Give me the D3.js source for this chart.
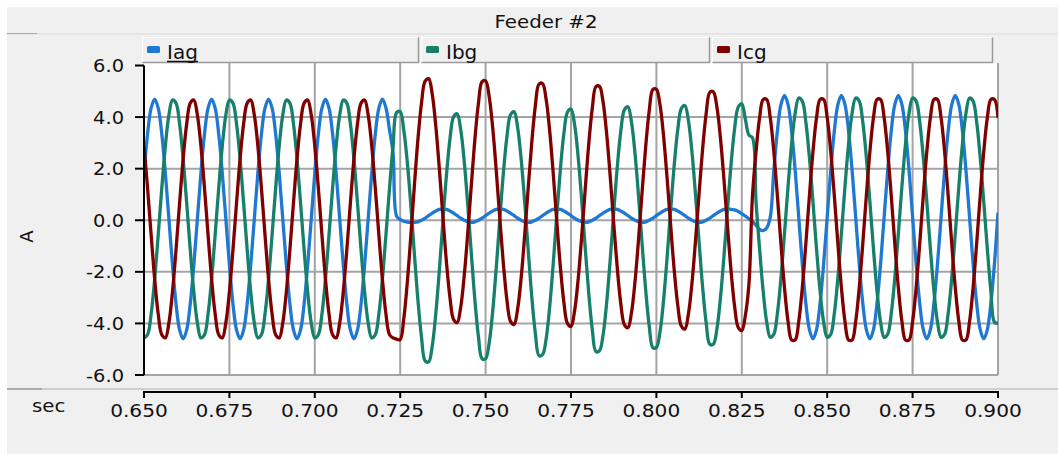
<!DOCTYPE html>
<html><head><meta charset="utf-8">
<script src="https://cdn.jsdelivr.net/npm/d3@7/dist/d3.min.js"></script>
<style>
body{margin:0;background:#fff}
svg{display:block}
text{font-family:"DejaVu Sans",Verdana,sans-serif;fill:#111}
</style>
</head><body>
<svg id="chart" width="1058" height="454"></svg>
<script>
// ---------------- data ----------------
const chartTitle = "Feeder #2";
const seriesNames = ["Iag", "Ibg", "Icg"];
const seriesColors = ["#1f78d2", "#16806a", "#800000"];
const xTicks = [0.650, 0.675, 0.700, 0.725, 0.750, 0.775, 0.800, 0.825, 0.850, 0.875, 0.900];
const xTickLabels = ["0.650", "0.675", "0.700", "0.725", "0.750", "0.775", "0.800", "0.825", "0.850", "0.875", "0.900"];
const yTicks = [-6, -4, -2, 0, 2, 4, 6];
const yTickLabels = ["-6.0", "-4.0", "-2.0", "0.0", "2.0", "4.0", "6.0"];
const xAxisTitle = "sec";
const yAxisTitle = "A";
const startTime = 0.65;      // sec
const sampleStep = 1 / 960;  // sec per sample

// Iag (A), one row per power cycle
const iag = [
  1.83,3.34,4.35,4.70,4.35,3.34,1.83,0.05,-1.73,-3.24,-4.25,-4.60,-4.25,-3.24,-1.73,0.05,
  1.83,3.34,4.35,4.70,4.35,3.34,1.83,0.05,-1.73,-3.24,-4.25,-4.60,-4.25,-3.24,-1.73,0.05,
  1.83,3.34,4.35,4.70,4.35,3.34,1.83,0.05,-1.73,-3.24,-4.25,-4.60,-4.25,-3.24,-1.73,0.05,
  1.83,3.34,4.35,4.70,4.35,3.34,1.83,0.05,-1.73,-3.24,-4.25,-4.60,-4.25,-3.24,-1.73,0.05,
  1.83,3.34,4.35,4.70,4.35,3.50,2.60,0.15,0.03,-0.04,-0.07,-0.08,-0.08,-0.06,0.00,0.08,
  0.18,0.28,0.36,0.42,0.44,0.42,0.36,0.28,0.18,0.08,0.00,-0.06,-0.08,-0.06,0.00,0.08,
  0.18,0.28,0.36,0.42,0.44,0.42,0.36,0.28,0.18,0.08,0.00,-0.06,-0.08,-0.06,0.00,0.08,
  0.18,0.28,0.36,0.42,0.44,0.42,0.36,0.28,0.18,0.08,0.00,-0.06,-0.08,-0.06,0.00,0.08,
  0.18,0.28,0.36,0.42,0.44,0.42,0.36,0.28,0.18,0.08,0.00,-0.06,-0.08,-0.06,0.00,0.08,
  0.18,0.28,0.36,0.42,0.44,0.42,0.36,0.28,0.18,0.08,0.00,-0.06,-0.08,-0.06,0.00,0.08,
  0.18,0.28,0.36,0.42,0.44,0.42,0.40,0.34,0.26,0.16,0.06,-0.05,-0.20,-0.35,-0.40,-0.30,
  0.12,1.93,3.46,4.48,4.84,4.48,3.46,1.93,0.12,-1.69,-3.22,-4.24,-4.60,-4.24,-3.22,-1.69,
  0.12,1.93,3.46,4.48,4.84,4.48,3.46,1.93,0.12,-1.69,-3.22,-4.24,-4.60,-4.24,-3.22,-1.69,
  0.12,1.93,3.46,4.48,4.84,4.48,3.46,1.93,0.12,-1.69,-3.22,-4.24,-4.60,-4.24,-3.22,-1.69,
  0.12,1.93,3.46,4.48,4.84,4.48,3.46,1.93,0.12,-1.69,-3.22,-4.24,-4.60,-4.24,-3.22,-1.69,
  0.30
];

// Ibg (A)
const ibg = [
  -4.56,-4.44,-3.64,-2.28,-0.56,1.25,2.88,4.08,4.66,4.54,3.74,2.38,0.66,-1.15,-2.78,-3.98,
  -4.56,-4.44,-3.64,-2.28,-0.56,1.25,2.88,4.08,4.66,4.54,3.74,2.38,0.66,-1.15,-2.78,-3.98,
  -4.56,-4.44,-3.64,-2.28,-0.56,1.25,2.88,4.08,4.66,4.54,3.74,2.38,0.66,-1.15,-2.78,-3.98,
  -4.56,-4.44,-3.64,-2.28,-0.56,1.25,2.88,4.08,4.66,4.54,3.74,2.38,0.66,-1.15,-2.78,-3.98,
  -4.56,-4.44,-3.64,-2.28,-0.56,1.25,2.88,4.18,4.21,3.50,2.25,0.56,-1.33,-3.13,-4.55,-5.45,
  -5.49,-4.88,-3.63,-1.94,-0.05,1.75,3.17,4.01,4.13,3.52,2.27,0.58,-1.31,-3.11,-4.53,-5.37,
  -5.37,-4.76,-3.52,-1.83,0.05,1.84,3.25,4.09,4.21,3.60,2.36,0.67,-1.21,-3.00,-4.41,-5.25,
  -5.21,-4.61,-3.37,-1.69,0.18,1.95,3.36,4.19,4.31,3.71,2.47,0.79,-1.08,-2.85,-4.26,-5.09,
  -5.06,-4.46,-3.23,-1.56,0.29,2.06,3.46,4.28,4.40,3.80,2.57,0.90,-0.95,-2.72,-4.12,-4.94,
  -4.93,-4.34,-3.12,-1.46,0.38,2.13,3.51,4.33,4.45,3.86,2.64,0.98,-0.86,-2.61,-3.99,-4.81,
  -4.81,-4.22,-3.01,-1.37,0.46,2.20,3.58,4.39,4.51,3.92,3.30,3.20,0.71,-1.11,-2.75,-3.95,
  -4.54,-4.42,-3.61,-2.24,-0.51,1.31,2.95,4.15,4.74,4.62,3.81,2.44,0.71,-1.11,-2.75,-3.95,
  -4.54,-4.42,-3.61,-2.24,-0.51,1.31,2.95,4.15,4.74,4.62,3.81,2.44,0.71,-1.11,-2.75,-3.95,
  -4.54,-4.42,-3.61,-2.24,-0.51,1.31,2.95,4.15,4.74,4.62,3.81,2.44,0.71,-1.11,-2.75,-3.95,
  -4.54,-4.42,-3.61,-2.24,-0.51,1.31,2.95,4.15,4.74,4.62,3.81,2.44,0.71,-1.11,-2.75,-3.95,
  -4.00
];

// Icg (A)
const icg = [
  2.88,1.25,-0.56,-2.28,-3.64,-4.44,-4.56,-3.98,-2.78,-1.15,0.66,2.38,3.74,4.54,4.66,4.08,
  2.88,1.25,-0.56,-2.28,-3.64,-4.44,-4.56,-3.98,-2.78,-1.15,0.66,2.38,3.74,4.54,4.66,4.08,
  2.88,1.25,-0.56,-2.28,-3.64,-4.44,-4.56,-3.98,-2.78,-1.15,0.66,2.38,3.74,4.54,4.66,4.08,
  2.88,1.25,-0.56,-2.28,-3.64,-4.44,-4.56,-3.98,-2.78,-1.15,0.66,2.38,3.74,4.54,4.66,4.08,
  2.88,1.25,-0.56,-2.28,-3.64,-4.44,-4.56,-4.61,-4.63,-3.83,-2.40,-0.58,1.37,3.17,4.56,5.39,
  5.49,4.89,3.66,1.99,0.14,-1.63,-3.02,-3.85,-3.97,-3.37,-2.14,-0.47,1.38,3.15,4.55,5.37,
  5.40,4.80,3.58,1.91,0.06,-1.70,-3.10,-3.92,-4.04,-3.44,-2.22,-0.55,1.30,3.06,4.46,5.28,
  5.30,4.70,3.48,1.82,-0.03,-1.79,-3.18,-4.00,-4.12,-3.52,-2.30,-0.64,1.21,2.97,4.36,5.18,
  5.19,4.60,3.38,1.73,-0.11,-1.85,-3.24,-4.05,-4.17,-3.58,-2.36,-0.71,1.13,2.87,4.26,5.07,
  5.08,4.49,3.29,1.64,-0.18,-1.92,-3.29,-4.10,-4.22,-3.63,-2.43,-0.78,1.04,2.78,4.15,4.96,
  4.98,4.39,3.19,1.56,-0.26,-1.99,-3.36,-4.16,-4.28,-3.69,-2.49,0.95,2.66,3.97,4.68,4.68,
  3.97,2.66,0.95,-0.91,-2.62,-3.93,-4.64,-4.64,-3.93,-2.62,-0.91,0.95,2.66,3.97,4.68,4.68,
  3.97,2.66,0.95,-0.91,-2.62,-3.93,-4.64,-4.64,-3.93,-2.62,-0.91,0.95,2.66,3.97,4.68,4.68,
  3.97,2.66,0.95,-0.91,-2.62,-3.93,-4.64,-4.64,-3.93,-2.62,-0.91,0.95,2.66,3.97,4.68,4.68,
  3.97,2.66,0.95,-0.91,-2.62,-3.93,-4.64,-4.64,-3.93,-2.62,-0.91,0.95,2.66,3.97,4.68,4.68,
  3.97
];

// ---------------- drawing ----------------
const svg = d3.select("#chart");
const W = 1058, H = 454;
const plot = {left: 144, right: 998, top: 63, bottom: 375};

const x = d3.scaleLinear().domain([0.65, 0.90]).range([plot.left, plot.right]);
const y = d3.scaleLinear().domain([-6, 6]).range([375, 65.5]);

// backgrounds
svg.append("rect").attr("width", W).attr("height", H).attr("fill", "#ffffff");
svg.append("rect").attr("x", 7).attr("y", 7).attr("width", W - 7).attr("height", H - 7).attr("fill", "#f0f0f0");

// title + separator
svg.append("text").attr("transform", "translate(546,28.3) scale(1.1,1)")
  .attr("text-anchor", "middle").style("font-size", "18px").text(chartTitle);
svg.append("line").attr("x1", 7).attr("x2", W).attr("y1", 34).attr("y2", 34)
  .attr("stroke", "#dcdcdc").attr("stroke-width", 1);
svg.append("line").attr("x1", 7).attr("x2", 37).attr("y1", 33.5).attr("y2", 33.5)
  .attr("stroke", "#a8a8a8").attr("stroke-width", 1);

// plot area
svg.append("rect").attr("x", plot.left).attr("y", plot.top)
  .attr("width", plot.right - plot.left).attr("height", plot.bottom - plot.top).attr("fill", "#ffffff");

// grid
const grid = svg.append("g").attr("stroke", "#a4a4a4").attr("stroke-width", 2);
grid.selectAll("line.h").data(yTicks.filter(v => v < 6)).join("line")
  .attr("x1", plot.left).attr("x2", plot.right)
  .attr("y1", d => y(d)).attr("y2", d => y(d));
grid.selectAll("line.v").data(xTicks.slice(1)).join("line")
  .attr("x1", d => x(d)).attr("x2", d => x(d))
  .attr("y1", plot.top).attr("y2", plot.bottom);

// legend
const legendBoxes = [[142, 419], [421, 710], [712, 993]];
const legend = svg.append("g");
seriesNames.forEach((name, i) => {
  const [x0, x1] = legendBoxes[i];
  const g = legend.append("g");
  g.append("rect").attr("x", x0).attr("y", 37).attr("width", x1 - x0).attr("height", 26).attr("fill", "#f0f0f0");
  g.append("path").attr("d", `M${x0 + 0.5},62.5V37.5H${x1 - 0.5}`).attr("fill", "none").attr("stroke", "#ffffff").attr("stroke-width", 1.2);
  g.append("path").attr("d", `M${x0 + 0.5},62.5H${x1 - 0.5}V37.5`).attr("fill", "none").attr("stroke", "#9a9a9a").attr("stroke-width", 1.5);
  g.append("rect").attr("x", x0 + 5).attr("y", 46).attr("width", 13).attr("height", 7).attr("rx", 1.5)
    .attr("fill", seriesColors[i]);
  g.append("text").attr("x", x0 + 25).attr("y", 59).style("font-size", "20px").text(name);
  if (i === 0) {
    g.append("line").attr("x1", x0 + 25).attr("x2", x0 + 56).attr("y1", 61.5).attr("y2", 61.5)
      .attr("stroke", "#111").attr("stroke-width", 1.5);
  }
});

// series lines
svg.append("clipPath").attr("id", "clip").append("rect")
  .attr("x", plot.left).attr("y", plot.top).attr("width", plot.right - plot.left).attr("height", plot.bottom - plot.top);
const times = iag.map((_, i) => startTime + i * sampleStep);
const line = d3.line().curve(d3.curveCatmullRom.alpha(0.5)).x((d, i) => x(times[i])).y(d => y(d));
const lines = svg.append("g").attr("clip-path", "url(#clip)");
[iag, ibg, icg].forEach((s, i) => {
  lines.append("path").attr("d", line(s)).attr("fill", "none")
    .attr("stroke", seriesColors[i]).attr("stroke-width", 3.3).attr("stroke-linejoin", "round");
});

// y axis
const yAxis = svg.append("g");
yAxis.append("line").attr("x1", plot.left).attr("x2", plot.left).attr("y1", y(6)).attr("y2", plot.bottom)
  .attr("stroke", "#000").attr("stroke-width", 2);
yAxis.selectAll("line.t").data(yTicks).join("line").attr("class", "t")
  .attr("x1", 135).attr("x2", plot.left).attr("y1", d => y(d)).attr("y2", d => y(d))
  .attr("stroke", "#000").attr("stroke-width", 2);
yAxis.selectAll("text").data(yTicks).join("text")
  .attr("transform", d => `translate(124,${y(d) + 6.6}) scale(1.08,1)`)
  .attr("text-anchor", "end").style("font-size", "18px")
  .text((d, i) => yTickLabels[i]);

// separator above x axis
svg.append("line").attr("x1", 7).attr("x2", W).attr("y1", 389).attr("y2", 389)
  .attr("stroke", "#c4c4c4").attr("stroke-width", 1.5);
svg.append("line").attr("x1", 7).attr("x2", 42).attr("y1", 389).attr("y2", 389)
  .attr("stroke", "#a0a0a0").attr("stroke-width", 1.5);

// x axis
const xAxis = svg.append("g");
xAxis.append("line").attr("x1", plot.left - 1).attr("x2", plot.right + 1).attr("y1", 392).attr("y2", 392)
  .attr("stroke", "#000").attr("stroke-width", 2);
xAxis.selectAll("line.t").data(xTicks).join("line").attr("class", "t")
  .attr("x1", d => x(d)).attr("x2", d => x(d)).attr("y1", 392).attr("y2", 398)
  .attr("stroke", "#000").attr("stroke-width", 2);
xAxis.selectAll("text").data(xTicks).join("text")
  .attr("transform", d => `translate(${x(d) - 5},416.5) scale(1.12,1)`)
  .attr("text-anchor", "middle").style("font-size", "18px")
  .text((d, i) => xTickLabels[i]);

// axis titles
svg.append("text").attr("transform", "translate(32,411.5) scale(1.1,1)").style("font-size", "18px").text(xAxisTitle);
svg.append("text").attr("transform", "translate(33,236.5) rotate(-90)").attr("text-anchor", "middle")
  .style("font-size", "18px").text(yAxisTitle);
</script>
</body></html>
